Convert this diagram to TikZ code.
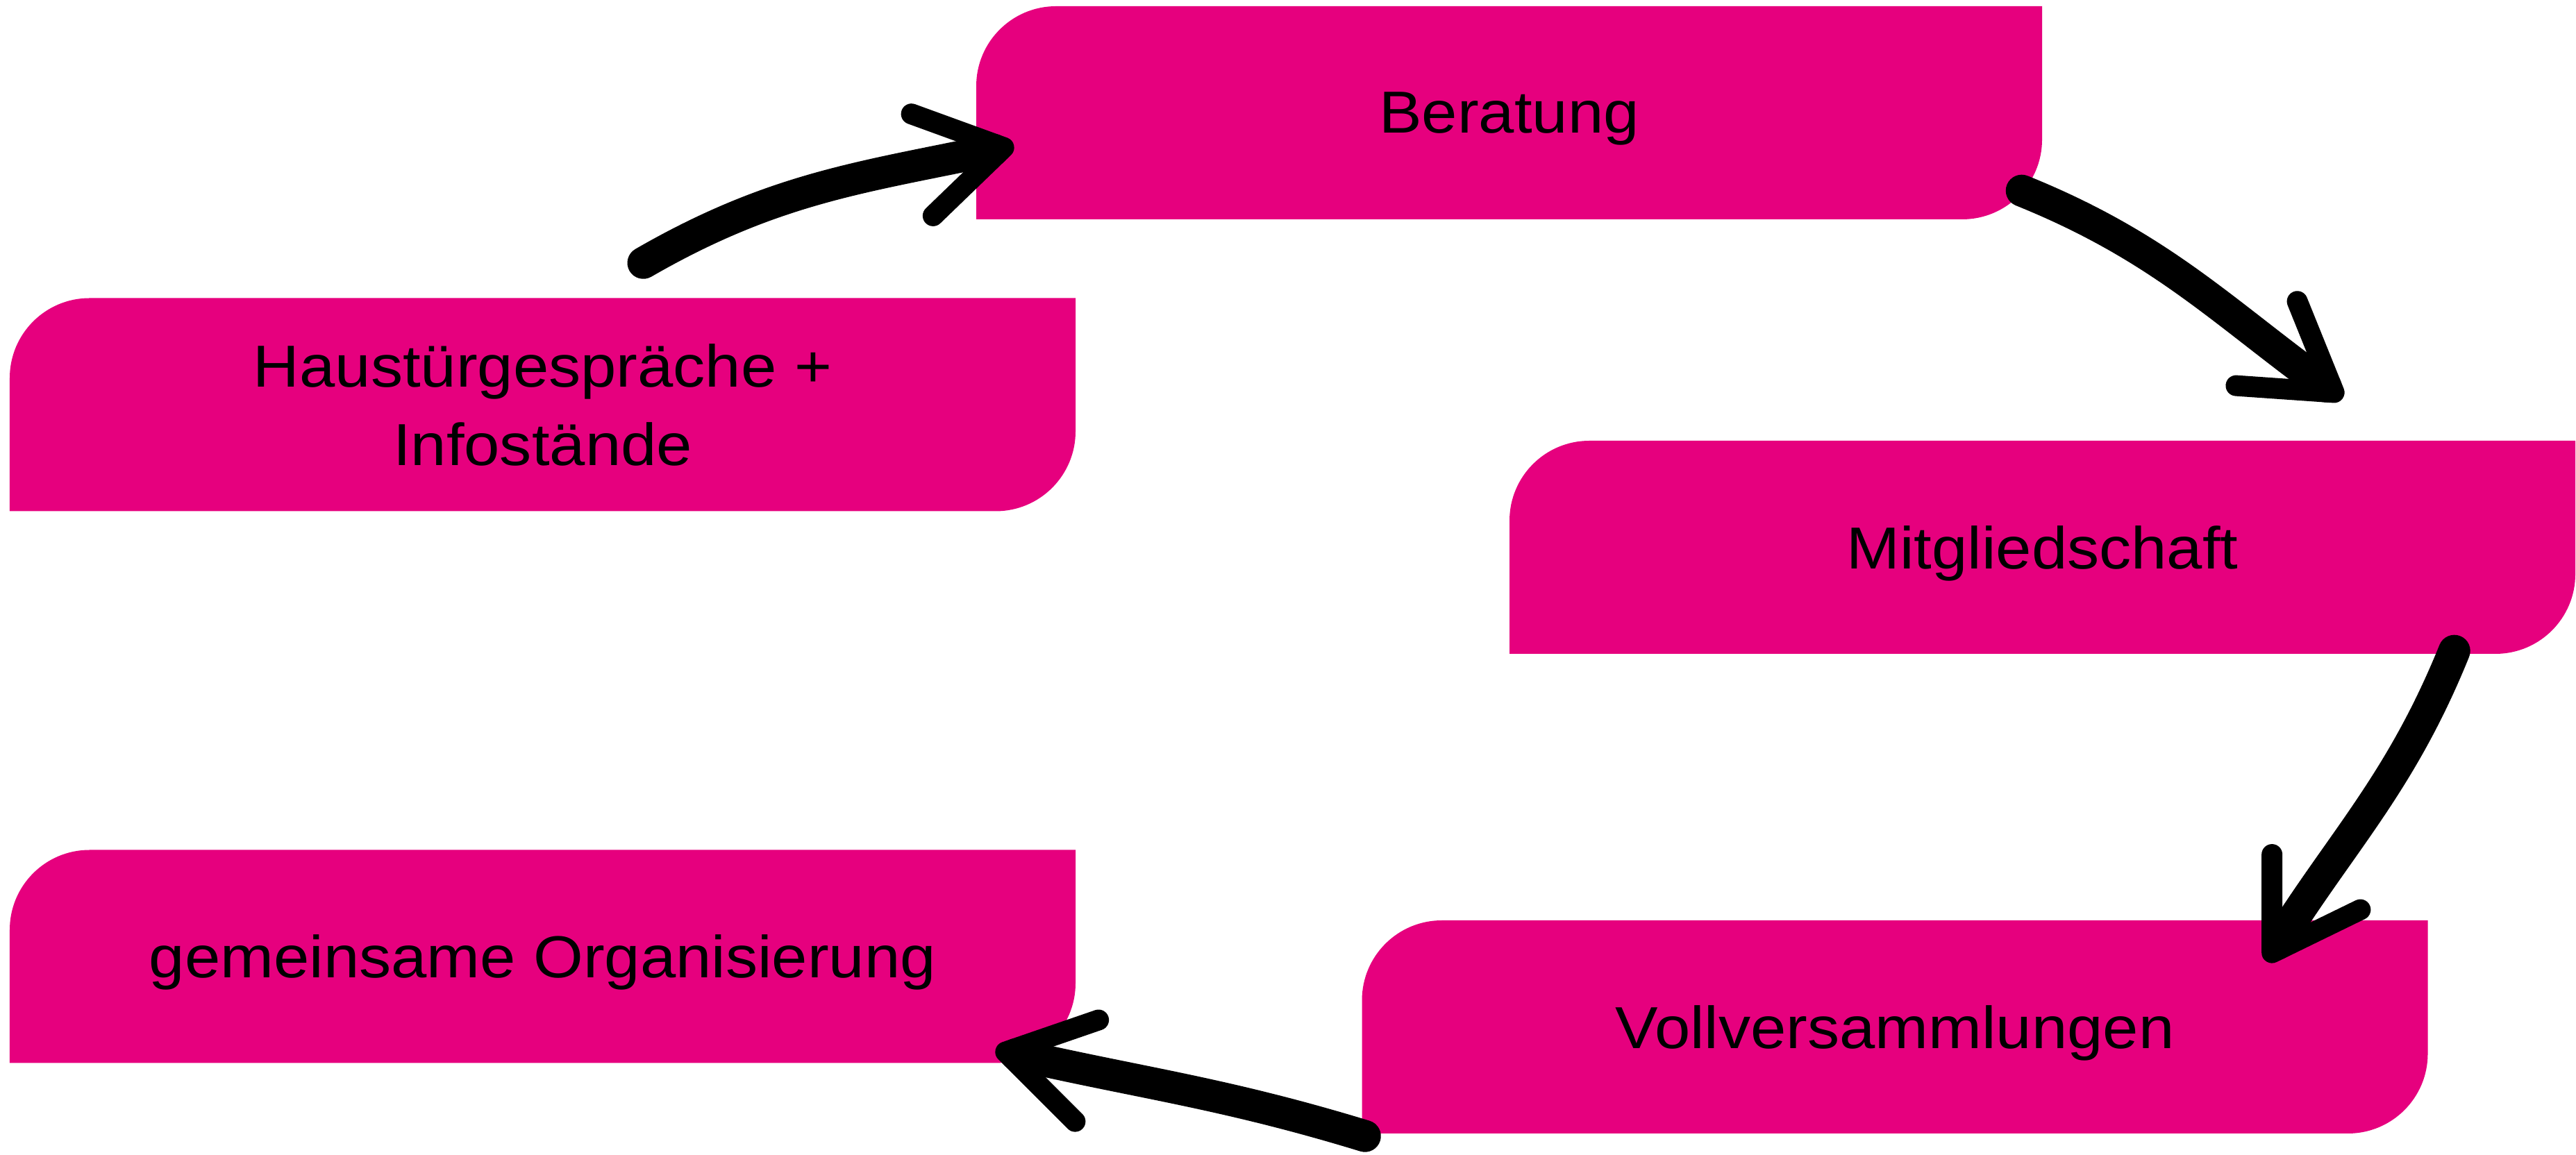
\documentclass[tikz,border=0pt]{standalone}
\usepackage{fontspec}
\setmainfont{Liberation Sans}
\newfontfamily\boxfont{Liberation Sans}[FakeStretch=1.08]
\usepackage{xcolor}
\usepackage{tikz}
\usetikzlibrary{positioning,calc,arrows.meta}

\definecolor{stepmagenta}{RGB}{230,0,126}

\begin{document}
\begin{tikzpicture}[
	stepbox/.style={minimum width=15.35cm, minimum height=3.07cm, inner sep=0pt,
		align=center, text depth=0pt, font=\boxfont\fontsize{24.3}{32}\selectfont,
		path picture={
			\fill[stepmagenta] (path picture bounding box.south west)
				-- ([yshift=-1.15cm]path picture bounding box.north west)
				arc[start angle=180, end angle=90, radius=1.15cm]
				-- (path picture bounding box.north east)
				-- ([yshift=1.15cm]path picture bounding box.south east)
				arc[start angle=0, end angle=-90, radius=1.15cm]
				-- cycle;
		}},
	brush/.style={line width=0.46cm, line cap=round,
		-{Straight Barb[length=1.2cm, width=1.5cm, line width=0.3cm, round]}}
	]
	\useasboundingbox (0,0) rectangle (37.10,16.63);
	\node[stepbox] (haus)     at (7.815,10.80)  {Haustürgespräche +\\Infostände};
	\node[stepbox] (berat)    at (21.735,15.005) {Beratung};
	\node[stepbox] (mitglied) at (29.415,8.745) {Mitgliedschaft};
	\node[stepbox] (voll)     at (27.29,1.835)  {Vollversammlungen};
	\node[stepbox] (gemein)   at (7.815,2.85)   {gemeinsame Organisierung};
	% hand drawn arrows
	\draw[brush] ([xshift=1.45cm,yshift=0.5cm]haus.north) to[out=30, in=192] ([xshift=0.55cm,yshift=-0.47cm]berat.west);
	\draw[brush] ([xshift=-0.3cm,yshift=0.42cm]berat.south east) to[out=-22, in=144] ([xshift=-3.36cm,yshift=0.6cm]mitglied.north east);
	\draw[brush] ([xshift=-1.75cm,yshift=0.05cm]mitglied.south east) to[out=-112, in=58] ([xshift=-2.33cm,yshift=-0.6cm]voll.north east);
	\draw[brush] ([xshift=0.05cm,yshift=-0.03cm]voll.south west) to[out=163, in=-13] ([xshift=-1.16cm,yshift=0.2cm]gemein.south east);
\end{tikzpicture}
\end{document}
